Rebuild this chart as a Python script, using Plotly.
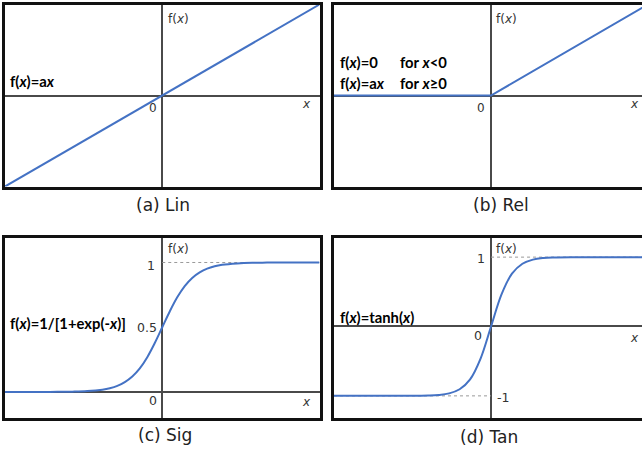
import plotly.graph_objects as go

# ---------------- data ----------------
lin_x = [-1.0, 1.0]
lin_y = [-1.0, 1.0]

relu_x = [-1.0, 0.0, 1.0]
relu_y = [0.0, 0.0, 1.0]

sig_x = [-10.5, -9, -8, -7, -6, -5, -4, -3.5, -3, -2.5, -2, -1.5, -1, -0.5, 0,
         0.5, 1, 1.5, 2, 2.5, 3, 3.5, 4, 5, 6, 7, 8, 10.5]
sig_y = [0.0, 0.0001, 0.0003, 0.0009, 0.0025, 0.0067, 0.018, 0.029, 0.047, 0.076,
         0.119, 0.182, 0.269, 0.378, 0.5, 0.622, 0.731, 0.818, 0.881, 0.924,
         0.953, 0.971, 0.982, 0.993, 0.998, 0.999, 1.0, 1.0]

tanh_x = [-7.5, -4, -3, -2.5, -2, -1.5, -1, -0.5, 0, 0.5, 1, 1.5, 2, 2.5, 3, 4, 7.5]
tanh_y = [-1.0, -0.999, -0.995, -0.987, -0.964, -0.905, -0.762, -0.462, 0.0,
          0.462, 0.762, 0.905, 0.964, 0.987, 0.995, 0.999, 1.0]

captions = ["(a) Lin", "(b) Rel", "(c) Sig", "(d) Tan"]

# ---------------- layout helpers ----------------
W, H = 642, 450
BLUE = "#4472C4"
AX = "#4a4a4a"
LBL = "#333333"
SANS = "DejaVu Sans"
BOLD = "Lato"


def px(xp, yp):
    return xp / W, 1 - yp / H


def xdom(a, b):
    return [a / W, min(b / W, 1.0)]


def ydom(top, bottom):
    return [1 - bottom / H, 1 - top / H]


fig = go.Figure()

line = dict(color=BLUE, width=2)
fig.add_trace(go.Scatter(x=lin_x, y=lin_y, mode="lines", line=line, xaxis="x", yaxis="y"))
fig.add_trace(go.Scatter(x=relu_x, y=relu_y, mode="lines", line=line, xaxis="x2", yaxis="y2"))

dot = dict(color="#9a9a9a", width=1, dash="dot")
fig.add_trace(go.Scatter(x=[0, 10.5], y=[1, 1], mode="lines", line=dot, xaxis="x3", yaxis="y3"))
fig.add_trace(go.Scatter(x=sig_x, y=sig_y, mode="lines", line=dict(color=BLUE, width=2, shape="spline"),
                         xaxis="x3", yaxis="y3"))
fig.add_trace(go.Scatter(x=[0, 7.5], y=[1, 1], mode="lines", line=dot, xaxis="x4", yaxis="y4"))
fig.add_trace(go.Scatter(x=[-7.5, 0], y=[-1, -1], mode="lines", line=dot, xaxis="x4", yaxis="y4"))
fig.add_trace(go.Scatter(x=tanh_x, y=tanh_y, mode="lines", line=dict(color=BLUE, width=2, shape="spline"),
                         xaxis="x4", yaxis="y4"))


def ax(dom, rng, anchor, mirror=True):
    return dict(domain=dom, range=rng, anchor=anchor, showgrid=False, showticklabels=False,
                ticks="", zeroline=True, zerolinecolor=AX, zerolinewidth=1.5,
                showline=True, linecolor="#111111", linewidth=2.5, mirror=mirror, fixedrange=True)


top_row = ydom(4.5, 186.5)
bot_row = ydom(237.5, 417.5)
left_col = xdom(5, 319.5)
right_col = xdom(334, 642)

layout = dict(
    width=W, height=H, margin=dict(l=0, r=0, t=0, b=0),
    paper_bgcolor="white", plot_bgcolor="white", showlegend=False,
    xaxis=ax(left_col, [-1, 1], "y"),
    yaxis=ax(top_row, [-1, 1], "x"),
    xaxis2=ax(right_col, [-1, 0.962], "y2"),
    yaxis2=ax(top_row, [-1, 1], "x2", mirror=False),
    xaxis3=ax(left_col, [-10.5, 10.5], "y3"),
    yaxis3=ax(bot_row, [-0.197, 1.193], "x3"),
    xaxis4=ax(right_col, [-7.5, 7.21], "y4"),
    yaxis4=ax(bot_row, [-1.312, 1.283], "x4", mirror=False),
)

ann = []


def add(text, xp, yp, xanchor="left", size=12, family=SANS, color=LBL):
    x, y = px(xp, yp)
    ann.append(dict(text=text, x=x, y=y, xref="paper", yref="paper", xanchor=xanchor,
                    yanchor="middle", showarrow=False,
                    font=dict(family=family, size=size, color=color)))


fx = "f(<i>x</i>)"
xi = "<i>x</i>"
BS = 14.8
# panel a
add(fx, 166, 19)
add("0", 159, 108, "right")
add(xi, 306, 104, "center")
add("<b>f(<i>x</i>)=a<i>x</i></b>", 8, 81, size=BS, family=BOLD, color="black")
# panel b
add(fx, 494, 19)
add("0", 487, 108, "right")
add(xi, 634.5, 104, "center")
add("<b>f(<i>x</i>)=0</b>", 338, 62, size=BS, family=BOLD, color="black")
add("<b>for <i>x</i>&lt;0</b>", 398, 62, size=BS, family=BOLD, color="black")
add("<b>f(<i>x</i>)=a<i>x</i></b>", 338, 83, size=BS, family=BOLD, color="black")
add("<b>for <i>x</i>≥0</b>", 398, 83, size=BS, family=BOLD, color="black")
# panel c
add(fx, 166, 249)
add("1", 157, 265, "right", size=12.5)
add("0.5", 159, 327, "right", size=12.5)
add("0", 159, 400, "right", size=12.5)
add(xi, 306, 402, "center")
add("<b>f(<i>x</i>)=1/[1+exp(-<i>x</i>)]</b>", 8, 323, size=BS, family=BOLD, color="black")
# panel d
add(fx, 494, 249)
add("1", 487, 258, "right", size=12.5)
add("0", 484.5, 335, "right", size=12.5)
add("-1", 495, 397, size=12.5)
add(xi, 634, 338, "center")
add("<b>f(<i>x</i>)=tanh(<i>x</i>)</b>", 338, 317, size=BS, family=BOLD, color="black")

# captions
for t, (cx, cy) in zip(captions, [(163, 205), (501, 205), (165, 435), (489, 437)]):
    add(t, cx, cy, "center", size=17, color="#222222")

layout["annotations"] = ann
fig.update_layout(**layout)
fig.write_html("out.html", config={"displayModeBar": False},
               post_script="document.body.style.margin='0';document.body.style.overflow='hidden';")
